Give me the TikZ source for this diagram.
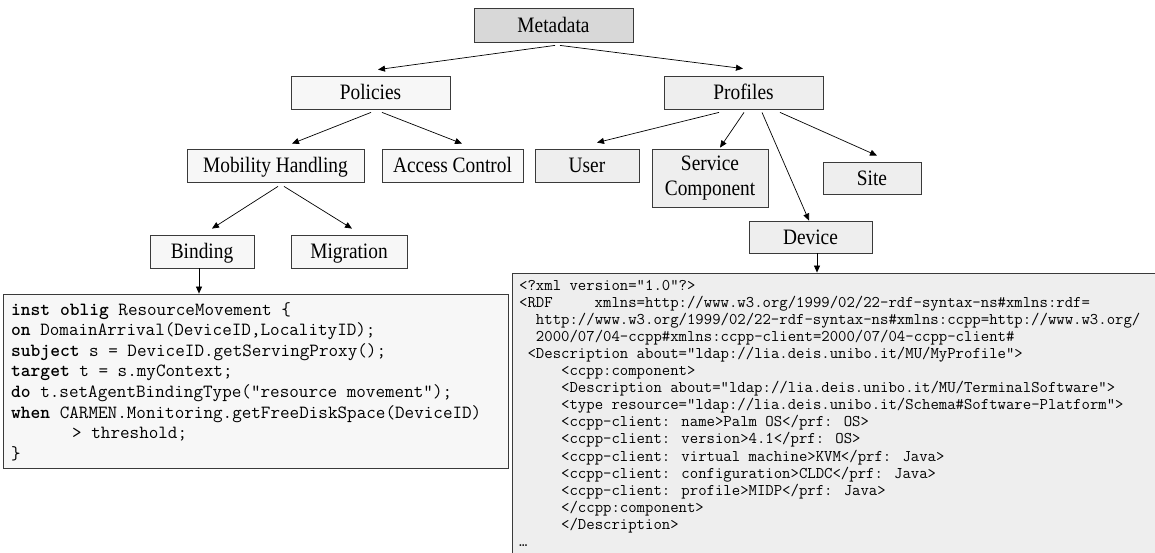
\documentclass[tikz,border=0pt]{standalone}
\usepackage{fontspec}
\setmainfont{Liberation Serif}[FakeStretch=0.88]
\usetikzlibrary{arrows.meta,calc}
\definecolor{bordc}{HTML}{3A3A3A}
\definecolor{metafill}{HTML}{D8D8D8}
\definecolor{lightfill}{HTML}{F7F7F7}
\definecolor{greyfill}{HTML}{EEEEEE}
\begin{document}
\begin{tikzpicture}[x=1pt,y=-1pt,
  box/.style={draw=bordc, line width=0.8pt, rectangle, inner sep=0pt, align=center,
    font=\fontsize{22}{25}\selectfont},
  one/.style={text height=14.6pt, text depth=0pt},
  pbox/.style={box, fill=lightfill},
  gbox/.style={box, fill=greyfill},
  arr/.style={draw=black, line width=0.7pt, -{Triangle[length=7pt,width=6pt]}},
  lc/.style={anchor=base west, inner sep=0pt, font=\ttfamily\fontsize{18.6}{18.6}\selectfont},
  rc/.style={anchor=base west, inner sep=0pt, font=\ttfamily\fontsize{16.3}{16.3}\selectfont}]
\useasboundingbox (0,0) rectangle (1155,553);

% tree nodes
\node[box, one, fill=metafill, minimum width=159pt, minimum height=34pt] (meta) at (553.5,25) {Metadata};
\node[pbox, one, minimum width=159pt, minimum height=33pt] (pol) at (370.5,92.5) {Policies};
\node[gbox, one, minimum width=159pt, minimum height=33pt] (prof) at (743.5,92.5) {Profiles};
\node[pbox, one, minimum width=177pt, minimum height=33pt] (mob) at (275.5,165.5) {Mobility Handling};
\node[pbox, one, minimum width=141pt, minimum height=33pt] (acc) at (452.5,165.5) {Access Control};
\node[gbox, one, minimum width=104pt, minimum height=33pt] (user) at (587,165.5) {User};
\node[gbox, minimum width=116pt, minimum height=58pt] (serv) at (710,178) {Service\\Component};
\node[gbox, one, minimum width=98pt, minimum height=32pt] (site) at (872,178) {Site};
\node[gbox, one, minimum width=123pt, minimum height=32pt] (dev) at (810.5,237) {Device};
\node[pbox, one, minimum width=104pt, minimum height=33pt] (bind) at (202,251.5) {Binding};
\node[pbox, one, minimum width=116pt, minimum height=33pt] (mig) at (349,251.5) {Migration};

% code boxes
\node[draw=bordc, line width=0.8pt, fill=lightfill, minimum width=505pt, minimum height=174pt, inner sep=0pt] (lcode) at (255.5,381) {};
\node[draw=bordc, line width=0.8pt, fill=greyfill, minimum width=660pt, minimum height=300pt, inner sep=0pt] (rcode) at (842,423) {};

% tree connectors
\draw[arr] ($(meta.south)+(1.5,3)$) -- ($(pol.north)+(7.5,-6)$);
\draw[arr] ($(meta.south)+(6.5,3)$) -- ($(prof.north)+(-0.5,-7)$);
\draw[arr] ($(pol.south)+(0.5,3)$) -- ($(mob.north)+(16.5,-5)$);
\draw[arr] ($(pol.south)+(11.5,3)$) -- ($(acc.north)+(9.5,-5)$);
\draw[arr] ($(mob.south)+(2.5,4)$) -- ($(bind.north)+(10,-6)$);
\draw[arr] ($(mob.south)+(8.5,4)$) -- ($(mig.north)+(3,-6)$);
\draw[arr] ($(prof.south)+(-24.5,3)$) -- ($(user.north)+(10,-6)$);
\draw[arr] ($(prof.south)+(0.5,3)$) -- ($(serv.north)+(10,-1)$);
\draw[arr] ($(prof.south)+(18.5,3)$) -- ($(dev.north)+(-1.5,0)$);
\draw[arr] ($(prof.south)+(36.5,3)$) -- ($(site.north)+(5,-6)$);
\coordinate (bindout) at ($(bind.south)+(-3,0)$);
\draw[arr] (bindout) -- (bindout |- lcode.north);
\coordinate (devout) at ($(dev.south)+(6.5,0)$);
\draw[arr] (devout) -- (devout |- rcode.north);

% left code text
\node[lc] (l1) at (11,315) {\textbf{inst oblig} ResourceMovement \{};
\node[lc] (l2) at (11,335.6) {\textbf{on} DomainArrival(DeviceID,LocalityID);};
\node[lc] (l3) at (11,356.2) {\textbf{subject} s = DeviceID.getServingProxy();};
\node[lc] (l4) at (11,376.8) {\textbf{target} t = s.myContext;};
\node[lc] (l5) at (11,397.4) {\textbf{do} t.setAgentBindingType(“resource movement”);};
\node[lc] (l6) at (11,418) {\textbf{when} CARMEN.Monitoring.getFreeDiskSpace(DeviceID)};
\node[lc] (l7) at (72,438.6) {> threshold;};
\node[lc] (l8) at (11,459.2) {\}};

% right code text
\node[rc] (r1) at (519,290) {<?xml version=”1.0”?>};
\node[rc] (r2) at (519,307.1) {<RDF\hphantom{xxxxx}xmlns=http://www.w3.org/1999/02/22-rdf-syntax-ns\#xmlns:rdf=};
\node[rc] (r3) at (519,324.2) {\hphantom{xx}http://www.w3.org/1999/02/22-rdf-syntax-ns\#xmlns:ccpp=http://www.w3.org/};
\node[rc] (r4) at (519,341.3) {\hphantom{xx}2000/07/04-ccpp\#xmlns:ccpp-client=2000/07/04-ccpp-client\#};
\node[rc] (r5) at (519,358.4) {\hphantom{x}<Description about=”ldap://lia.deis.unibo.it/MU/MyProfile”>};
\node[rc] (r6) at (519,375.5) {\hphantom{xxxxx}<ccpp:component>};
\node[rc] (r7) at (519,392.6) {\hphantom{xxxxx}<Description about=”ldap://lia.deis.unibo.it/MU/TerminalSoftware”>};
\node[rc] (r8) at (519,409.7) {\hphantom{xxxxx}<type resource=”ldap://lia.deis.unibo.it/Schema\#Software-Platform”>};
\node[rc] (r9) at (519,426.8) {\hphantom{xxxxx}<ccpp-client: name>Palm OS</prf: OS>};
\node[rc] (r10) at (519,443.9) {\hphantom{xxxxx}<ccpp-client: version>4.1</prf: OS>};
\node[rc] (r11) at (519,461) {\hphantom{xxxxx}<ccpp-client: virtual machine>KVM</prf: Java>};
\node[rc] (r12) at (519,478.1) {\hphantom{xxxxx}<ccpp-client: configuration>CLDC</prf: Java>};
\node[rc] (r13) at (519,495.2) {\hphantom{xxxxx}<ccpp-client: profile>MIDP</prf: Java>};
\node[rc] (r14) at (519,512.3) {\hphantom{xxxxx}</ccpp:component>};
\node[rc] (r15) at (519,529.4) {\hphantom{xxxxx}</Description>};
\node[rc] (r16) at (519,546.5) {…};
\end{tikzpicture}
\end{document}
